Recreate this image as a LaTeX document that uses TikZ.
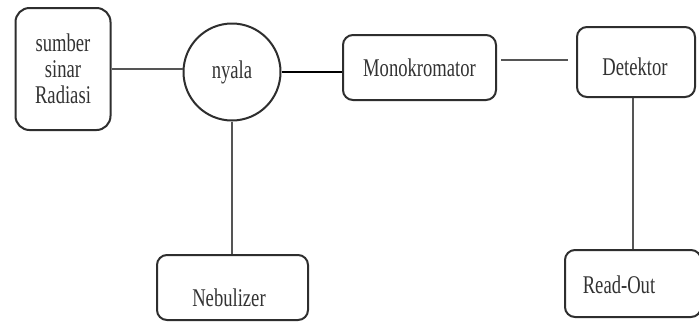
\documentclass[tikz,border=0pt]{standalone}
\usepackage{fontspec}
\setmainfont{Liberation Serif}[FakeStretch=0.73]
\definecolor{boxline}{HTML}{2E2E2E}
\definecolor{conline}{HTML}{555555}
\definecolor{txt}{HTML}{333333}
\begin{document}
\begin{tikzpicture}[x=1pt,y=-1pt,
  box/.style={draw=boxline, line width=2pt, rounded corners=10pt, fill=white, inner sep=0pt},
  conn/.style={draw=conline, line width=1.8pt},
  lbl/.style={text=txt, font=\fontsize{25.5}{26}\selectfont, inner sep=0pt}]
\useasboundingbox[fill=white] (0,0) rectangle (699,325);
% nodes
\node[box, rounded corners=14pt, minimum width=95, minimum height=122, align=center, lbl] (src) at (63,69) {sumber\\sinar\\Radiasi};
\node[draw=boxline, line width=2pt, circle, minimum size=97, fill=white, lbl] (ny) at (232,72) {nyala};
\node[box, minimum width=153, minimum height=65, lbl] (mono) at (419.5,67.5) {Monokromator};
\node[box, minimum width=118, minimum height=70] (det) at (636,62) {};
\node[lbl] (dett) at (635,67) {Detektor};
\node[box, minimum width=151, minimum height=65] (neb) at (232.5,287.5) {};
\node[lbl] (nebt) at (229,298) {Nebulizer};
\node[box, minimum width=136, minimum height=67] (ro) at (633,283.5) {};
\node[lbl] (rot) at (619,285) {Read-Out};
% connectors
\draw[conn] (src.east) -- (ny.west |- src.east);
\draw[draw=black, line width=2.6pt] (ny.east) -- (mono.west |- ny.east);
\draw[conn] ([xshift=4pt,yshift=7.5pt]mono.east) -- ([xshift=-8pt,yshift=2pt]det.west);
\draw[conn] ([xshift=-3pt]det.south) -- ([xshift=-3pt]det.south |- ro.north);
\draw[conn] (ny.south) -- (ny.south |- neb.north);
\end{tikzpicture}
\end{document}
